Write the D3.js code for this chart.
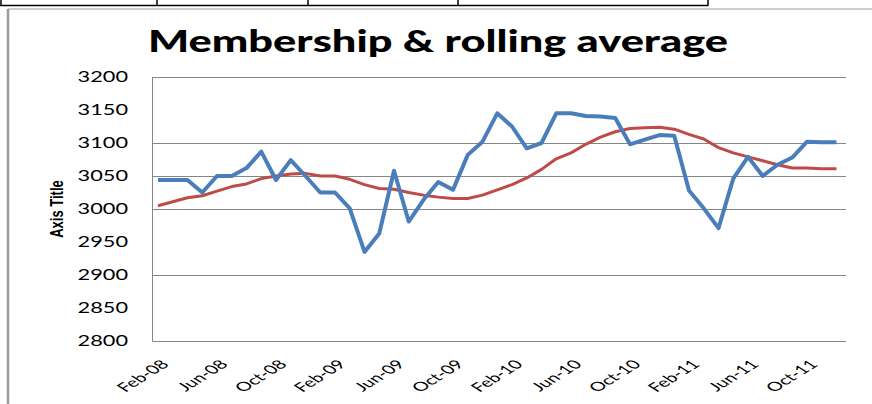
<!DOCTYPE html>
<html>
<head>
<meta charset="utf-8">
<script src="https://cdn.jsdelivr.net/npm/d3@7"></script>
<style>
  body { margin: 0; background: #fff; }
  svg { display: block; }
</style>
</head>
<body>
<svg id="chart" width="872" height="404"></svg>
<script>
// months on the category axis
const months = [
  "Feb-08", "Mar-08", "Apr-08", "May-08", "Jun-08", "Jul-08", "Aug-08", "Sep-08", "Oct-08", "Nov-08", "Dec-08",
  "Jan-09", "Feb-09", "Mar-09", "Apr-09", "May-09", "Jun-09", "Jul-09", "Aug-09", "Sep-09", "Oct-09", "Nov-09", "Dec-09",
  "Jan-10", "Feb-10", "Mar-10", "Apr-10", "May-10", "Jun-10", "Jul-10", "Aug-10", "Sep-10", "Oct-10", "Nov-10", "Dec-10",
  "Jan-11", "Feb-11", "Mar-11", "Apr-11", "May-11", "Jun-11", "Jul-11", "Aug-11", "Sep-11", "Oct-11", "Nov-11", "Dec-11"
];

const membership = [
  3044, 3044, 3044, 3025, 3050, 3050, 3062, 3087, 3044, 3074, 3050,
  3025, 3025, 3001, 2935, 2963, 3058, 2981, 3014, 3041, 3029, 3082, 3102,
  3145, 3125, 3092, 3100, 3145, 3145, 3141, 3140, 3138, 3098, 3105, 3112,
  3111, 3028, 3001, 2971, 3046, 3079, 3050, 3067, 3078, 3102, 3101, 3101
];

const rollingAverage = [
  3005, 3011, 3017, 3020, 3027, 3034, 3038, 3046, 3050, 3053, 3054,
  3050, 3050, 3045, 3037, 3031, 3030, 3025, 3021, 3018, 3016, 3016, 3021,
  3029, 3037, 3047, 3060, 3076, 3085, 3098, 3109, 3117, 3122, 3123, 3124,
  3121, 3113, 3106, 3093, 3085, 3079, 3073, 3067, 3062, 3062, 3061, 3061
];

const yTicks = [2800, 2850, 2900, 2950, 3000, 3050, 3100, 3150, 3200];
// gridlines that show in the picture
const gridValues = [2800, 2900, 3000, 3050, 3100, 3200];

const plotLeft = 152.5;
const plotRight = 846;
const plotTop = 77;
const plotBottom = 341;
const stretch = 1.45;

const svg = d3.select("#chart");

// table lines above the chart
const table = svg.append("g").attr("stroke", "#000").attr("stroke-width", 1.5);
table.append("line").attr("x1", 0).attr("x2", 708).attr("y1", 5.5).attr("y2", 5.5);
[1, 157, 308, 458, 708].forEach((x) => {
  table.append("line").attr("x1", x).attr("x2", x).attr("y1", 0).attr("y2", 6);
});

// chart frame
svg.append("line")
  .attr("x1", 8).attr("x2", 872).attr("y1", 9).attr("y2", 9)
  .attr("stroke", "#9a9a9a").attr("stroke-width", 1);
svg.append("line")
  .attr("x1", 8).attr("x2", 8).attr("y1", 9).attr("y2", 404)
  .attr("stroke", "#9a9a9a").attr("stroke-width", 2.5);

const xScale = d3.scalePoint().domain(months).range([158, 836.5]);
const yScale = d3.scaleLinear().domain([2800, 3200]).range([plotBottom, plotTop]);

// gridlines
svg.append("g")
  .selectAll("line")
  .data(gridValues)
  .enter()
  .append("line")
  .attr("x1", plotLeft)
  .attr("x2", plotRight)
  .attr("y1", (v) => Math.round(yScale(v)) + 0.5)
  .attr("y2", (v) => Math.round(yScale(v)) + 0.5)
  .attr("stroke", "#868686")
  .attr("stroke-width", 1);

// left axis line
svg.append("line")
  .attr("x1", plotLeft).attr("x2", plotLeft)
  .attr("y1", plotTop).attr("y2", plotBottom + 0.5)
  .attr("stroke", "#868686");

// y tick labels
svg.append("g")
  .selectAll("text")
  .data(yTicks)
  .enter()
  .append("text")
  .text((v) => v)
  .attr("transform", (v) => `translate(128,${yScale(v)}) scale(${stretch},1)`)
  .attr("dy", "0.36em")
  .attr("text-anchor", "end")
  .attr("font-family", "Lato, sans-serif")
  .attr("font-size", 15)
  .attr("fill", "#000");

// x tick labels, every fourth month
svg.append("g")
  .selectAll("text")
  .data(months.filter((m, i) => i % 4 === 0))
  .enter()
  .append("text")
  .text((m) => m)
  .attr("transform", (m) => `translate(${xScale(m) + 7},362) scale(1.6,1) rotate(-45)`)
  .attr("dy", "0.35em")
  .attr("text-anchor", "end")
  .attr("font-family", "Lato, sans-serif")
  .attr("font-size", 12.5)
  .attr("fill", "#000");

// axis title
svg.append("text")
  .text("Axis Title")
  .attr("transform", `translate(63,209) scale(${stretch},1) rotate(-90)`)
  .attr("text-anchor", "middle")
  .attr("font-family", "Liberation Sans, Arial, sans-serif")
  .attr("font-weight", "bold")
  .attr("font-size", 13)
  .attr("fill", "#000");

// chart title
svg.append("text")
  .text("Membership & rolling average")
  .attr("x", 148)
  .attr("y", 52)
  .attr("textLength", 580)
  .attr("lengthAdjust", "spacingAndGlyphs")
  .attr("font-family", "Lato, sans-serif")
  .attr("font-weight", "900")
  .attr("font-size", 30)
  .attr("fill", "#000");

const line = d3.line()
  .x((d, i) => xScale(months[i]))
  .y((d) => yScale(d));

svg.append("path")
  .datum(rollingAverage)
  .attr("d", line)
  .attr("fill", "none")
  .attr("stroke", "#BE4B48")
  .attr("stroke-width", 3)
  .attr("stroke-linejoin", "round");

svg.append("path")
  .datum(membership)
  .attr("d", line)
  .attr("fill", "none")
  .attr("stroke", "#4A7EBB")
  .attr("stroke-width", 4)
  .attr("stroke-linejoin", "round");
</script>
</body>
</html>
